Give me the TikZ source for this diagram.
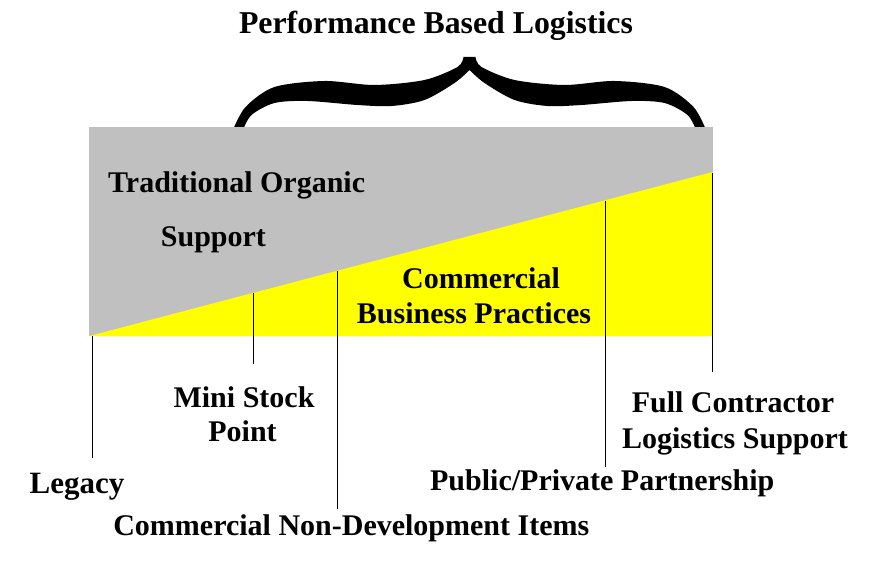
\documentclass[tikz,border=0pt]{standalone}
\usepackage{fontspec}
\setmainfont{Liberation Serif}
\definecolor{panelgray}{RGB}{192,192,192}
\definecolor{panelyellow}{RGB}{255,255,0}
\begin{document}
\begin{tikzpicture}[x=1pt,y=-1pt,
  lbl/.style={inner sep=0pt, font=\fontsize{30}{36}\selectfont\bfseries},
  tick/.style={line width=1pt, black}]
\useasboundingbox (0,0) rectangle (869,569);
% brace
\begin{scope}[shift={(469.5,0)}]
\fill[black] plot[smooth] coordinates {(-6,57) (-12,67) (-45,80) (-95,85) (-145,81) (-195,87) (-224,107) (-237,131)}
  -- plot[smooth] coordinates {(-227,131) (-218,115) (-195,103) (-162,101) (-112,105) (-78,106) (-45,100) (-15,83) (0,70)}
  -- plot[smooth] coordinates {(0,70) (15,83) (45,100) (78,106) (112,105) (162,101) (195,103) (218,115) (227,131)}
  -- plot[smooth] coordinates {(237,131) (224,107) (195,87) (145,81) (95,85) (45,80) (12,67) (6,57)} -- cycle;
\end{scope}
% panels
\fill[panelgray] (89.3,127.3) rectangle (712.6,336);
\fill[panelyellow] (89.3,336) -- (712.6,172) -- (712.6,336) -- cycle;
% tick coordinates
\coordinate (legT) at (92.3,336);   \coordinate (legB) at (92.3,458.3);
\coordinate (msT) at (253.3,292.9); \coordinate (msB) at (253.3,364.3);
\coordinate (cnT) at (337.3,270.8); \coordinate (cnB) at (337.3,509.3);
\coordinate (ppT) at (605.3,201.5); \coordinate (ppB) at (605.3,467.3);
\coordinate (fcT) at (712.3,173);   \coordinate (fcB) at (712.3,371.7);
\draw[tick] (legT) -- (legB);
\draw[tick] (msT) -- (msB);
\draw[tick] (cnT) -- (cnB);
\draw[tick] (ppT) -- (ppB);
\draw[tick] (fcT) -- (fcB);
% labels
\node[lbl, font=\fontsize{31.8}{38}\selectfont\bfseries, anchor=base] (title) at (436,33.3) {Performance Based Logistics};
\node[lbl, anchor=base west] (trad1) at (108,192.7) {Traditional Organic};
\node[lbl, anchor=base west] (trad2) at (160.7,246) {Support};
\node[lbl, anchor=base] (cbp1) at (481,288.3) {Commercial};
\node[lbl, anchor=base] (cbp2) at (474,323.3) {Business Practices};
\node[lbl, anchor=base] (ms1) at (244,407.3) {Mini Stock};
\node[lbl, anchor=base] (ms2) at (242.5,441.7) {Point};
\node[lbl, font=\fontsize{31}{37}\selectfont\bfseries, anchor=base] (leg) at (77,493.3) {Legacy};
\node[lbl, anchor=base] (cndi) at (351.3,535) {Commercial Non-Development Items};
\node[lbl, anchor=base] (ppp) at (602.2,490) {Public/Private Partnership};
\node[lbl, anchor=base] (fc1) at (733,412.7) {Full Contractor};
\node[lbl, anchor=base] (fc2) at (735,448.3) {Logistics Support};
\end{tikzpicture}
\end{document}
